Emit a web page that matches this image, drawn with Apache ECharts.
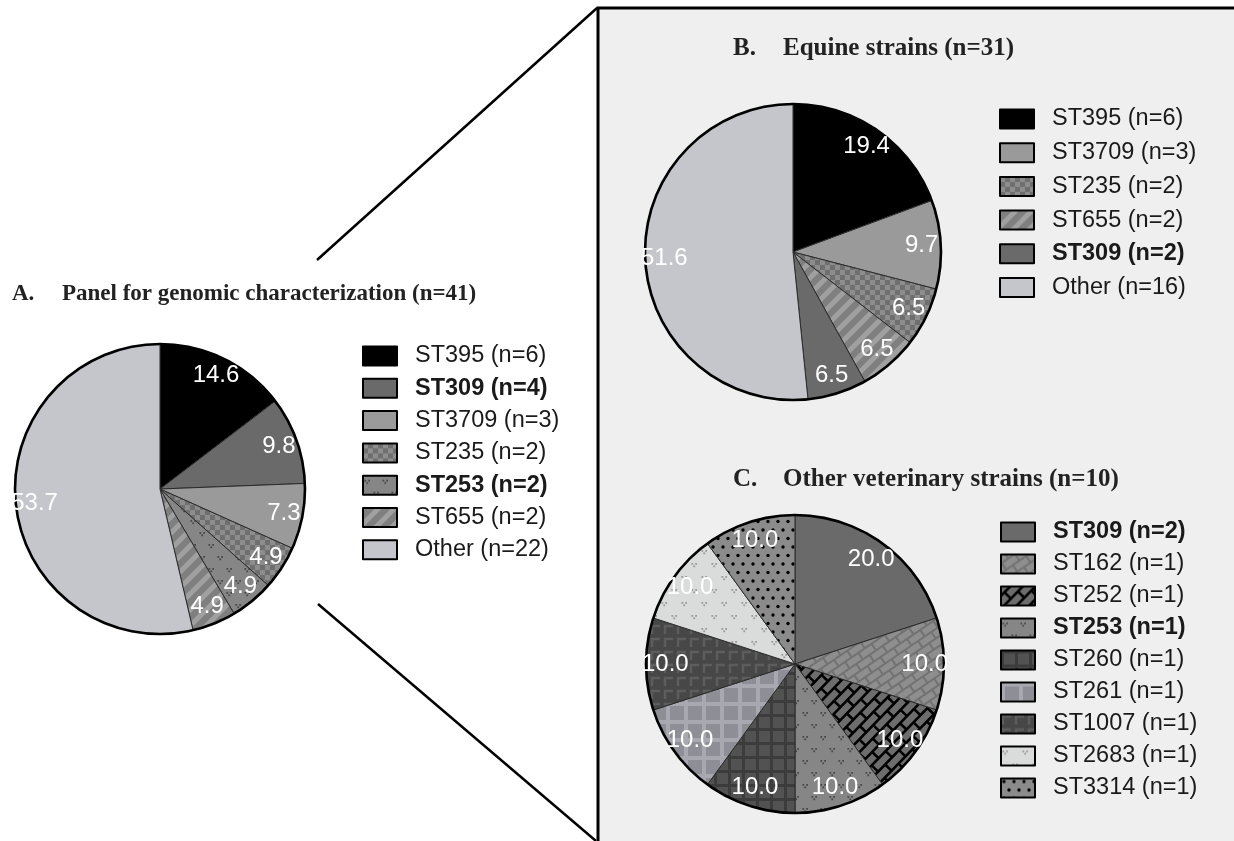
<!DOCTYPE html>
<html><head><meta charset="utf-8">
<script src="https://cdn.jsdelivr.net/npm/echarts@6/dist/echarts.min.js"></script>
<style>html,body{margin:0;padding:0;background:#fff}#c{width:1234px;height:841px}</style>
</head><body><div id="c"></div>
<script>
// ---------- data ----------
const titleA = ['A.', 'Panel for genomic characterization (n=41)'];
const titleB = ['B.', 'Equine strains (n=31)'];
const titleC = ['C.', 'Other veterinary strains (n=10)'];

const catsA = ['ST395', 'ST309', 'ST3709', 'ST235', 'ST253', 'ST655', 'Other'];
const countsA = [6, 4, 3, 2, 2, 2, 22];
const pctA = [14.6, 9.8, 7.3, 4.9, 4.9, 4.9, 53.7];

const catsB = ['ST395', 'ST3709', 'ST235', 'ST655', 'ST309', 'Other'];
const countsB = [6, 3, 2, 2, 2, 16];
const pctB = [19.4, 9.7, 6.5, 6.5, 6.5, 51.6];

const catsC = ['ST309', 'ST162', 'ST252', 'ST253', 'ST260', 'ST261', 'ST1007', 'ST2683', 'ST3314'];
const countsC = [2, 1, 1, 1, 1, 1, 1, 1, 1];
const pctC = [20.0, 10.0, 10.0, 10.0, 10.0, 10.0, 10.0, 10.0, 10.0];

const boldNames = ['ST309', 'ST253'];

// ---------- patterns (styles) ----------
const W = 1234, H = 841;
function pat(draw) {
  const c = document.createElement('canvas');
  c.width = W; c.height = H;
  const g = c.getContext('2d');
  draw(g);
  return { image: c, repeat: 'no-repeat' };
}
function checker(g) {
  g.fillStyle = '#6f6f6f'; g.fillRect(0, 0, W, H);
  g.fillStyle = '#8d8d8d';
  for (let y = 0; y < H; y += 5) for (let x = 0; x < W; x += 5)
    if (((x / 5) + (y / 5)) % 2 === 0) g.fillRect(x, y, 5, 5);
}
function stripes(g) {
  g.fillStyle = '#7f7f7f'; g.fillRect(0, 0, W, H);
  g.strokeStyle = '#a0a0a0'; g.lineWidth = 5;
  g.beginPath();
  for (let k = -H; k < W + H; k += 16) { g.moveTo(k, H); g.lineTo(k + H, 0); }
  g.stroke();
}
function vdots(bg, fg, sx, sy) {
  return function (g) {
    g.fillStyle = bg; g.fillRect(0, 0, W, H);
    g.fillStyle = fg;
    for (let r = 0, y = 4; y < H; r++, y += sy) {
      const off = (r % 2) * sx / 2;
      for (let x = off + 4; x < W; x += sx) {
        g.fillRect(x - 2.6, y, 1.8, 1.8);
        g.fillRect(x + 1.2, y, 1.8, 1.8);
        g.fillRect(x - 0.7, y + 2.4, 1.8, 1.8);
      }
    }
  };
}
function dots(g) {
  g.fillStyle = '#8b8b8b'; g.fillRect(0, 0, W, H);
  g.fillStyle = '#000';
  for (let r = 0, y = 3; y < H; r++, y += 8.5) {
    const off = (r % 2) * 5;
    for (let x = off + 3; x < W; x += 10) { g.beginPath(); g.arc(x, y, 1.7, 0, Math.PI * 2); g.fill(); }
  }
}
function bricks(bg, line, lw, bw, bh, ang) {
  return function (g) {
    g.fillStyle = bg; g.fillRect(0, 0, W, H);
    g.save(); g.translate(W / 2, H / 2); g.rotate(ang);
    g.strokeStyle = line; g.lineWidth = lw; g.beginPath();
    const R = 900;
    for (let k = Math.floor(-R / bh); k * bh < R; k++) {
      const y = k * bh;
      g.moveTo(-R, y); g.lineTo(R, y);
      for (let x = -R + (Math.abs(k) % 2 ? bw / 2 : 0); x < R; x += bw) { g.moveTo(x, y); g.lineTo(x, y + bh); }
    }
    g.stroke(); g.restore();
  };
}
function grid(lineCol, sqCol, period, lw) {
  return function (g) {
    g.fillStyle = lineCol; g.fillRect(0, 0, W, H);
    g.fillStyle = sqCol;
    for (let y = 0; y < H; y += period) for (let x = 0; x < W; x += period) g.fillRect(x + lw, y + lw, period - lw, period - lw);
  };
}
function corners(g) {
  g.fillStyle = '#474747'; g.fillRect(0, 0, W, H);
  g.strokeStyle = '#5d5d5d'; g.lineWidth = 2.5; g.beginPath();
  for (let y = 0; y < H; y += 13) for (let x = 0; x < W; x += 13) {
    g.moveTo(x + 2, y + 10); g.lineTo(x + 2, y + 2); g.lineTo(x + 10, y + 2);
  }
  g.stroke();
}

const fills = {
  ST395: '#000000',
  ST309: '#6a6a6a',
  ST3709: '#9a9a9a',
  ST235: pat(checker),
  ST253: pat(vdots('#868686', '#4a4a4a', 18, 12)),
  ST655: pat(stripes),
  Other: '#c5c5cc',
  ST162: pat(bricks('#8e8e8e', '#727272', 2, 16, 8, -0.6)),
  ST252: pat(bricks('#6d6d6d', '#000000', 2.6, 20, 9, -0.8)),
  ST260: pat(grid('#3c3c3c', '#525252', 14, 3)),
  ST261: pat(grid('#a8a8b0', '#8e8e96', 18, 4)),
  ST1007: pat(corners),
  ST2683: pat(vdots('#dadcdb', '#999b9a', 20, 13)),
  ST3314: pat(dots)
};

// ---------- builders ----------
const sansFont = 'Liberation Sans';
const serifFont = 'Liberation Serif';

function pieSeries(cats, counts, pct, center, R) {
  const data = cats.map((n, i) => ({ name: n, value: counts[i], itemStyle: { color: fills[n] } }));
  return [
    {
      type: 'pie', center, radius: [0, R], startAngle: 90, silent: true, z: 2,
      label: { show: false }, labelLine: { show: false },
      itemStyle: { borderColor: '#2b2b2b', borderWidth: 1 },
      emphasis: { disabled: true },
      data
    },
    {
      type: 'pie', center, radius: [R * 0.7, R], startAngle: 90, silent: true, z: 4,
      avoidLabelOverlap: false, minShowLabelAngle: 0,
      labelLayout: { hideOverlap: false },
      itemStyle: { color: 'rgba(0,0,0,0)', borderWidth: 0 },
      emphasis: { disabled: true },
      label: {
        show: true, position: 'inside', color: '#ffffff', fontSize: 24, fontFamily: sansFont,
        formatter: p => pct[p.dataIndex].toFixed(1)
      },
      labelLine: { show: false },
      data: cats.map((n, i) => ({ name: n, value: counts[i] }))
    },
    {
      type: 'pie', center, radius: [R - 1.3, R + 1.3], silent: true, z: 3,
      label: { show: false }, labelLine: { show: false },
      emphasis: { disabled: true },
      itemStyle: { color: '#000', borderWidth: 0 },
      data: [{ name: '__ring', value: 1 }]
    }
  ];
}

function legendFor(cats, counts, left, top, gap) {
  const fs = 23.5;
  return {
    orient: 'vertical', left, top, padding: 0, icon: 'rect',
    itemWidth: 34, itemHeight: 19, itemGap: gap, selectedMode: false,
    data: cats,
    itemStyle: { borderColor: '#000', borderWidth: 2 },
    textStyle: {
      fontFamily: sansFont, fontSize: fs, color: '#1a1a1a', lineHeight: 19, padding: [0, 0, 0, 13],
      rich: { b: { fontFamily: sansFont, fontSize: fs, fontWeight: 'bold', color: '#1a1a1a', lineHeight: 19 } }
    },
    formatter: name => {
      const i = cats.indexOf(name);
      const s = name + ' (n=' + counts[i] + ')';
      return boldNames.indexOf(name) >= 0 ? '{b|' + s + '}' : s;
    }
  };
}

function titleFor(t, left, top, w, fs) {
  const f = { fontFamily: serifFont, fontWeight: 'bold', fontSize: fs, color: '#222', lineHeight: 28 };
  return {
    left, top, padding: 0,
    text: '{a|' + t[0] + '}{t|' + t[1] + '}',
    textStyle: { rich: { a: Object.assign({ width: w }, f), t: f } }
  };
}

const chart = echarts.init(document.getElementById('c'), null, { width: W, height: H });
chart.setOption({
  animation: false,
  backgroundColor: '#ffffff',
  title: [
    titleFor(titleA, 12, 280, 50, 23),
    titleFor(titleB, 733, 35, 50, 25),
    titleFor(titleC, 733, 466, 50, 25)
  ],
  legend: [
    legendFor(catsA, countsA, 362, 344, 8.3),
    legendFor(catsB, countsB, 999, 107, 9.7),
    legendFor(catsC, countsC, 1000, 520, 8.0)
  ],
  graphic: [
    { type: 'rect', z: -10, shape: { x: 598, y: 8, width: 640, height: 840 }, style: { fill: '#efefef' }, silent: true },
    { type: 'polyline', z: 10, shape: { points: [[598, 845], [598, 8], [1240, 8]] }, style: { stroke: '#000', lineWidth: 3, fill: null }, silent: true },
    { type: 'line', z: 10, shape: { x1: 317, y1: 260, x2: 597, y2: 8 }, style: { stroke: '#000', lineWidth: 2.5 }, silent: true },
    { type: 'line', z: 10, shape: { x1: 318, y1: 604, x2: 596, y2: 841 }, style: { stroke: '#000', lineWidth: 2.5 }, silent: true }
  ],
  series: [].concat(
    pieSeries(catsA, countsA, pctA, [160, 489], 145),
    pieSeries(catsB, countsB, pctB, [793, 252], 148),
    pieSeries(catsC, countsC, pctC, [795, 664], 149)
  )
});
</script></body></html>
